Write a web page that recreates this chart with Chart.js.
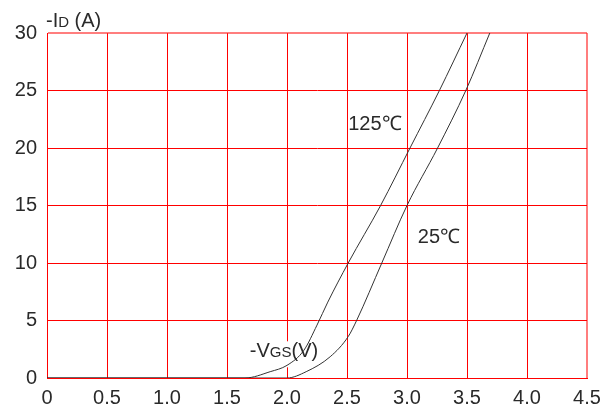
<!DOCTYPE html>
<html>
<head>
<meta charset="utf-8">
<script src="https://cdn.jsdelivr.net/npm/chart.js@4/dist/chart.umd.min.js"></script>
<style>
  html, body { margin: 0; padding: 0; background: #fff; }
  #wrap { width: 613px; height: 411px; }
</style>
</head>
<body>
<div id="wrap"><canvas id="idVgsChart" width="613" height="411"></canvas></div>
<script>
// -Vgs / -Id readings for both temperatures
const vgs125 = [0, 1.65, 1.86, 2.0, 2.14, 2.25, 2.34, 2.51, 2.78, 3.025, 3.27, 3.5];
const id125 = [0, 0, 0.55, 1.1, 2.4, 4.6, 6.6, 10, 15, 20, 25, 30];
const vgs25 = [0, 2.0, 2.16, 2.36, 2.51, 2.58, 2.79, 3.0, 3.255, 3.49, 3.69];
const id25 = [0, 0, 0.55, 1.85, 3.6, 5, 10, 15, 20, 25, 30];

const xTicks = [0, 0.5, 1.0, 1.5, 2.0, 2.5, 3.0, 3.5, 4.0, 4.5];
const xTickLabels = ['0', '0.5', '1.0', '1.5', '2.0', '2.5', '3.0', '3.5', '4.0', '4.5'];
const yTicks = [0, 5, 10, 15, 20, 25, 30];

const FONT = '"Liberation Sans", Arial, sans-serif';
const TEXT = '#2a2a2a';
const GRID = 'rgb(255,0,0)';
const EDGE = 'rgba(255,40,40,0.6)';

function toPoints(xs, ys) {
    return xs.map((x, i) => ({ x: x, y: ys[i] }));
}

// draws text made of pieces with different sizes (fake subscripts)
function drawPieces(ctx, x, y, pieces) {
    let cx = x;
    pieces.forEach(p => {
        ctx.font = p[1] + 'px ' + FONT;
        ctx.fillText(p[0], cx, y);
        cx += ctx.measureText(p[0]).width;
    });
    return cx - x;
}

const labelsPlugin = {
    id: 'curveLabels',
    beforeDatasetsDraw(chart) {
        const ctx = chart.ctx;
        const xs = chart.scales.x, ys = chart.scales.y;
        // white box behind the -Vgs(V) caption hides the grid only
        ctx.save();
        ctx.fillStyle = '#fff';
        const lx = xs.getPixelForValue(1.69), ly = ys.getPixelForValue(1.8);
        ctx.fillRect(lx, ly - 16, 74, 26);
        ctx.restore();
    },
    afterDatasetsDraw(chart) {
        const ctx = chart.ctx;
        const xs = chart.scales.x, ys = chart.scales.y;
        ctx.save();
        ctx.fillStyle = TEXT;
        ctx.textBaseline = 'alphabetic';
        ctx.textAlign = 'left';
        ctx.font = '20px ' + FONT;
        ctx.fillText('125\u2103', xs.getPixelForValue(2.51), ys.getPixelForValue(21.6));
        ctx.fillText('25\u2103', xs.getPixelForValue(3.09), ys.getPixelForValue(11.7));
        drawPieces(ctx, xs.getPixelForValue(1.69), ys.getPixelForValue(1.8),
            [['-V', 20], ['GS', 15], ['(V)', 20]]);
        drawPieces(ctx, chart.chartArea.left - 1, chart.chartArea.top - 6,
            [['-I', 20], ['D', 15], [' (A)', 20]]);
        ctx.restore();
    }
};

const lineStyle = {
    borderColor: '#333',
    borderWidth: 1,
    pointRadius: 0,
    fill: false,
    cubicInterpolationMode: 'monotone'
};

new Chart(document.getElementById('idVgsChart'), {
    type: 'line',
    data: {
        datasets: [
            Object.assign({ label: '125', data: toPoints(vgs125, id125) }, lineStyle),
            Object.assign({ label: '25', data: toPoints(vgs25, id25) }, lineStyle)
        ]
    },
    options: {
        responsive: false,
        animation: false,
        layout: { padding: { left: 0, right: 26, top: 33, bottom: 0 } },
        plugins: { legend: { display: false }, tooltip: { enabled: false } },
        scales: {
            x: {
                type: 'linear',
                min: 0,
                max: 4.5,
                afterBuildTicks: s => { s.ticks = xTicks.map(v => ({ value: v })); },
                afterFit: s => { s.height = 33; },
                grid: {
                    color: c => (c.tick && c.tick.value === 4.5 ? EDGE : GRID),
                    lineWidth: c => (c.tick && c.tick.value === 4.5 ? 2 : 1),
                    drawTicks: false
                },
                border: { display: true, color: GRID, width: 1 },
                ticks: {
                    color: TEXT,
                    font: { family: FONT, size: 20 },
                    padding: 8,
                    maxRotation: 0,
                    autoSkip: false,
                    callback: (v) => xTickLabels[xTicks.indexOf(v)]
                }
            },
            y: {
                type: 'linear',
                min: 0,
                max: 30,
                afterBuildTicks: s => { s.ticks = yTicks.map(v => ({ value: v })); },
                afterFit: s => { s.width = 47; },
                grid: {
                    color: c => (c.tick && c.tick.value === 30 ? EDGE : GRID),
                    lineWidth: c => (c.tick && c.tick.value === 30 ? 2 : 1),
                    drawTicks: false
                },
                border: { display: true, color: GRID, width: 1 },
                ticks: {
                    color: TEXT,
                    font: { family: FONT, size: 20 },
                    padding: 10,
                    autoSkip: false
                }
            }
        }
    },
    plugins: [labelsPlugin]
});
</script>
</body>
</html>
